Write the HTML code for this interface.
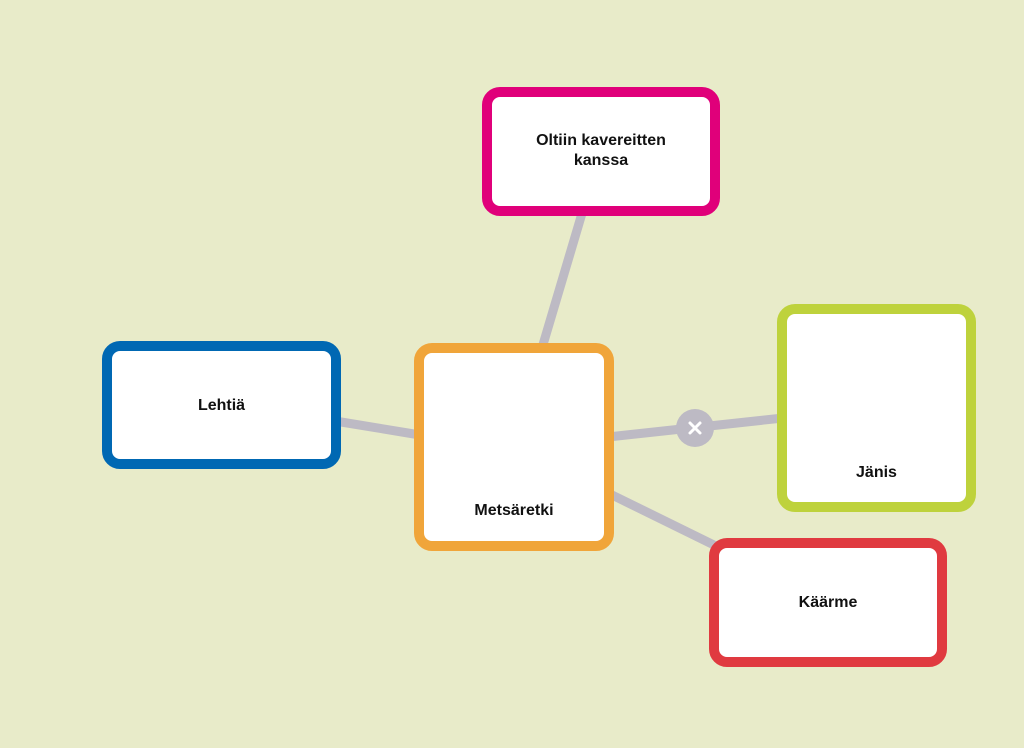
<!DOCTYPE html>
<html><head><meta charset="utf-8"><style>
body{margin:0;width:1024px;height:748px;background:#e8ebc9;position:relative;overflow:hidden;font-family:"Liberation Sans",sans-serif}
.b{position:absolute;box-sizing:border-box;background:#fff;border:10px solid;border-radius:18px}
.t{position:absolute;left:0;right:0;text-align:center;font-weight:bold;font-size:16px;color:#111;line-height:20px}
svg{position:absolute;left:0;top:0}
</style></head><body>
<svg width="1024" height="748">
<g stroke="#bdbac4" stroke-width="9" stroke-linecap="butt">
<line x1="583" y1="210" x2="542" y2="348"/>
<line x1="335" y1="421" x2="420" y2="435"/>
<line x1="608" y1="437" x2="783" y2="418"/>
<line x1="608" y1="493" x2="720" y2="548"/>
</g>
<circle cx="695" cy="428" r="19" fill="#bdbac4"/>
<g stroke="#fff" stroke-width="3" stroke-linecap="round">
<line x1="690" y1="423" x2="700" y2="433"/><line x1="700" y1="423" x2="690" y2="433"/>
</g>
</svg>
<div class="b" style="left:482px;top:87px;width:238px;height:129px;border-color:#e0007a"><div class="t" style="top:34px">Oltiin kavereitten<br>kanssa</div></div>
<div class="b" style="left:102px;top:341px;width:239px;height:128px;border-color:#0068b3"><div class="t" style="top:45px">Lehtiä</div></div>
<div class="b" style="left:414px;top:343px;width:200px;height:208px;border-color:#f0a53a"><div class="t" style="top:148px">Metsäretki</div></div>
<div class="b" style="left:777px;top:304px;width:199px;height:208px;border-color:#bed23c"><div class="t" style="top:149px">Jänis</div></div>
<div class="b" style="left:709px;top:538px;width:238px;height:129px;border-color:#e03a40"><div class="t" style="top:45px">Käärme</div></div>
</body></html>
